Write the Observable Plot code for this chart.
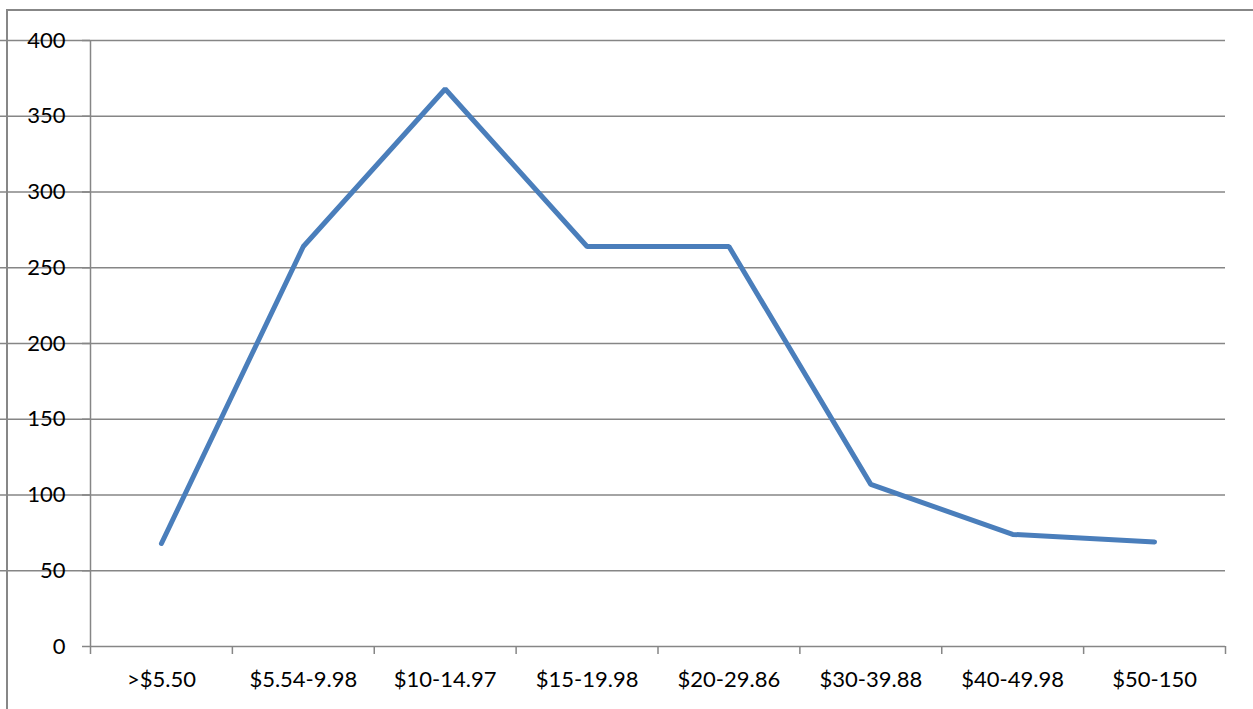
<!DOCTYPE html>
<html>
<head>
<meta charset="utf-8">
<script src="https://cdn.jsdelivr.net/npm/d3@7"></script>
<script src="https://cdn.jsdelivr.net/npm/@observablehq/plot@0.6"></script>
<style>
  html, body { margin: 0; padding: 0; background: #fff; overflow: hidden; }
  #wrap { position: relative; width: 1253px; height: 709px; }
  #border { position: absolute; left: 6px; top: 9px; width: 1300px; height: 760px; border: 2px solid #878787; box-sizing: border-box; pointer-events: none; }
  #chart { position: absolute; left: 0; top: 0; }
</style>
</head>
<body>
<div id="wrap"><div id="chart"></div><div id="border"></div></div>
<script>
const categories = [">$5.50", "$5.54-9.98", "$10-14.97", "$15-19.98", "$20-29.86", "$30-39.88", "$40-49.98", "$50-150"];
const values = [68, 264, 368, 264, 264, 107, 74, 69];
const yTicks = [0, 50, 100, 150, 200, 250, 300, 350, 400];

const data = categories.map((c, i) => ({pos: i + 0.5, label: c, value: values[i]}));
const boundaries = d3.range(0, categories.length + 1);

const chart = Plot.plot({
  width: 1253,
  height: 709,
  marginLeft: 90,
  marginRight: 28,
  marginTop: 40,
  marginBottom: 63,
  style: {fontFamily: "Lato, 'Open Sans', sans-serif", fontSize: "22px", color: "#000", background: "transparent"},
  x: {domain: [0, categories.length], label: null},
  y: {domain: [0, 400], label: null},
  marks: [
    Plot.gridY(yTicks.filter(d => d > 0), {stroke: "#868686", strokeOpacity: 1, strokeWidth: 1.5, x1: -8}),
    Plot.axisY({ticks: yTicks, tickSize: 8, tickPadding: 17, stroke: "#868686", strokeWidth: 1.5, fill: "#000", fontSize: 22, label: null}),
    Plot.ruleY([0], {stroke: "#868686", strokeWidth: 1.5}),
    Plot.ruleX([0], {stroke: "#868686", strokeWidth: 1.5}),
    Plot.axisX({ticks: boundaries, tickSize: 8, tickFormat: () => "", stroke: "#868686", strokeWidth: 1.5, label: null}),
    Plot.axisX({ticks: data.map(d => d.pos), tickSize: 0, tickPadding: 25, tickFormat: (d) => categories[Math.floor(d)], fill: "#000", fontSize: 22, label: null}),
    Plot.line(data, {x: "pos", y: "value", stroke: "#4a7ebb", strokeWidth: 5, strokeLinejoin: "miter", strokeLinecap: "round"})
  ]
});
document.getElementById("chart").appendChild(chart);
</script>
</body>
</html>
